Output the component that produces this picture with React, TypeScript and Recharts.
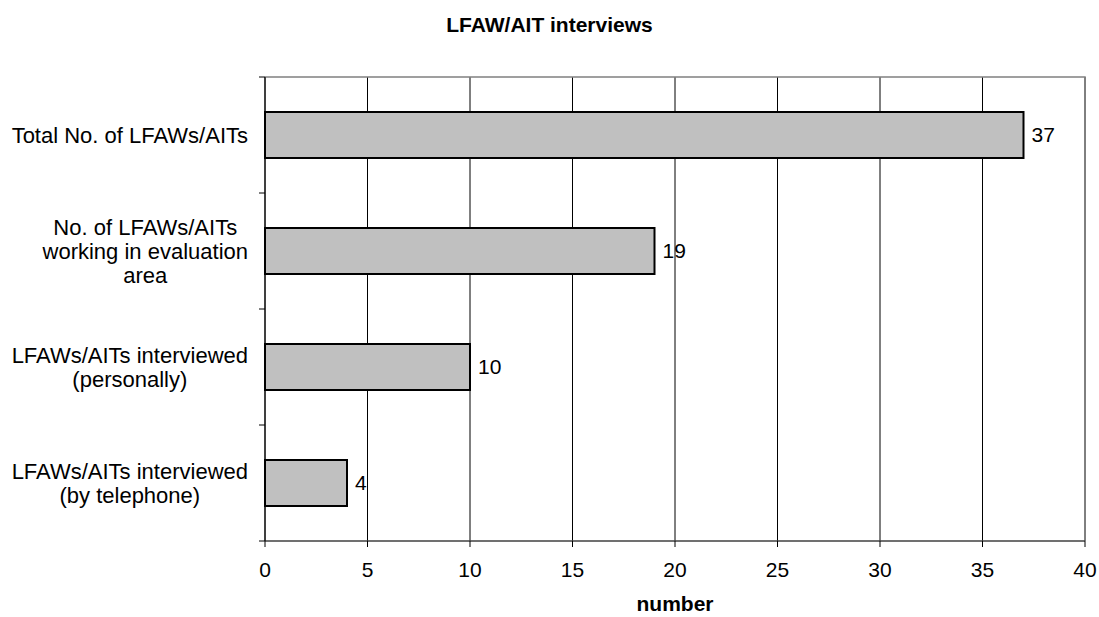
import { BarChart, Bar, XAxis, YAxis, CartesianGrid, LabelList, Label, ReferenceArea } from 'recharts';

const categories = [
  'Total No. of LFAWs/AITs',
  'No. of LFAWs/AITs\nworking in evaluation\narea',
  'LFAWs/AITs interviewed\n(personally)',
  'LFAWs/AITs interviewed\n(by telephone)',
];
const counts = [37, 19, 10, 4];
const xTicks = [0, 5, 10, 15, 20, 25, 30, 35, 40];

const FONT = "'Liberation Sans', Arial, sans-serif";
const CAT_SIZE = 22;
const data = categories.map((name, i) => ({ name, value: counts[i] }));

let ctx: CanvasRenderingContext2D | null = null;
function measure(text: string) {
  if (!ctx) ctx = document.createElement('canvas').getContext('2d');
  if (!ctx) return text.length * 10;
  ctx.font = `${CAT_SIZE}px ${FONT}`;
  return ctx.measureText(text).width;
}

// category label, centred lines, plus the between-category tick marks Excel draws
function CatTick(props: any) {
  const { x, y, payload, height, visibleTicksCount, index } = props;
  const lines: string[] = String(payload.value).split('\n');
  const w = Math.max(...lines.map(measure));
  const cx = x - w / 2;
  const lh = 24;
  const y0 = y - ((lines.length - 1) * lh) / 2;
  const band = height && visibleTicksCount ? height / visibleTicksCount : 116;
  const axisX = x + 11 + 6;
  return (
    <g>
      <line x1={axisX - 6} x2={axisX} y1={y - band / 2} y2={y - band / 2} stroke="#000" />
      {index === visibleTicksCount - 1 && (
        <line x1={axisX - 6} x2={axisX} y1={y + band / 2} y2={y + band / 2} stroke="#000" />
      )}
      <text x={cx} y={y0} textAnchor="middle" fontSize={CAT_SIZE} fontFamily={FONT} fill="#000">
        {lines.map((l, i) => (
          <tspan key={i} x={cx} y={y0 + i * lh} dy="0.35em">{l}</tspan>
        ))}
      </text>
    </g>
  );
}

// only the top and right edges of the plot frame
function Frame(props: any) {
  const { x, y, width, height } = props;
  return <path d={`M${x},${y}H${x + width}V${y + height}`} fill="none" stroke="#808080" strokeWidth={1.5} />;
}

export default function App() {
  return (
    <div style={{ position: 'absolute', left: 0, top: 0, width: 1099, height: 617, background: '#fff', fontFamily: FONT }}>
      <div style={{ position: 'absolute', left: 0, width: 1099, top: 12, textAlign: 'center', fontSize: 21, fontWeight: 'bold', lineHeight: '26px' }}>
        LFAW/AIT interviews
      </div>
      <BarChart
        width={1099}
        height={617}
        data={data}
        layout="vertical"
        margin={{ top: 77, right: 14, bottom: 0, left: 0 }}
      >
        <CartesianGrid horizontal={false} stroke="#000" />
        <ReferenceArea x1={0} x2={40} shape={<Frame />} />
        <XAxis
          type="number"
          domain={[0, 40]}
          ticks={xTicks}
          height={76}
          axisLine={{ stroke: '#404040', strokeWidth: 1.5 }}
          tickLine={{ stroke: '#000' }}
          tickSize={6}
          tickMargin={15}
          tick={{ fontSize: 21, fontFamily: FONT, fill: '#000' }}
        >
          <Label value="number" position="insideBottom" offset={6} style={{ fontSize: 21, fontWeight: 'bold', fontFamily: FONT, fill: '#000' }} />
        </XAxis>
        <YAxis
          type="category"
          dataKey="name"
          width={265}
          axisLine={{ stroke: '#000' }}
          tickLine={false}
          tickSize={6}
          tickMargin={11}
          tick={<CatTick />}
        />
        <Bar dataKey="value" fill="#c0c0c0" stroke="#000" strokeWidth={2} barSize={46} isAnimationActive={false}>
          <LabelList dataKey="value" position="right" offset={8} style={{ fontSize: 21, fontFamily: FONT, fill: '#000' }} />
        </Bar>
      </BarChart>
    </div>
  );
}
